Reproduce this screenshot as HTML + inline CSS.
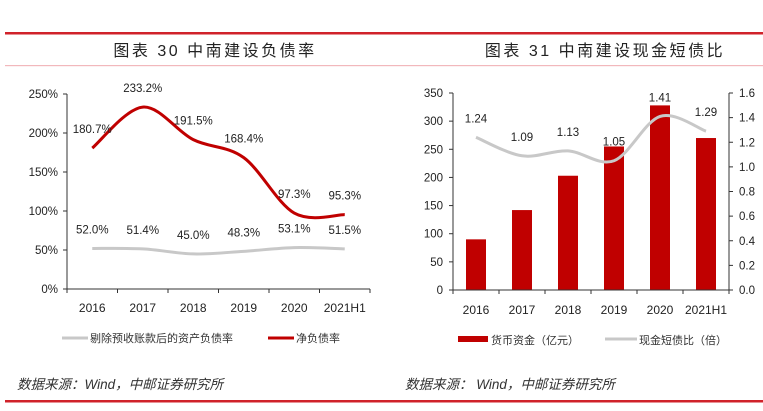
<!DOCTYPE html>
<html><head><meta charset="utf-8"><style>
body{margin:0;width:763px;height:411px;background:#fff;overflow:hidden;font-family:"Liberation Sans","Noto Sans CJK SC",sans-serif}
svg{position:absolute;left:0;top:0}
</style></head><body>
<svg width="763" height="411" font-family="Liberation Sans, Noto Sans CJK SC, sans-serif">
<rect x="5" y="32" width="758" height="2.5" fill="#d0222a"/>
<rect x="5" y="65" width="758" height="1.2" fill="#f2b8bc"/>
<rect x="5" y="400" width="758" height="2.5" fill="#d0222a"/>
<text x="215" y="56" font-size="16" letter-spacing="2.5" text-anchor="middle" fill="#222">图表 30 中南建设负债率</text>
<text x="605" y="56" font-size="16" letter-spacing="2.5" text-anchor="middle" fill="#222">图表 31 中南建设现金短债比</text>
<text x="17" y="389" font-size="13.5" font-style="italic" fill="#333">数据来源：Wind，中邮证券研究所</text>
<text x="405" y="389" font-size="13.5" font-style="italic" fill="#333">数据来源： Wind，中邮证券研究所</text>
<g id="left"></g><g id="right"></g>
</svg>
<script>
const cats=['2016','2017','2018','2019','2020','2021H1'];
const adjDebt=[52.0,51.4,45.0,48.3,53.1,51.5];
const netDebt=[180.7,233.2,191.5,168.4,97.3,95.3];
const leftTicks=[0,50,100,150,200,250];
const cash=[90,142,203,255,328,270];
const ratio=[1.24,1.09,1.13,1.05,1.41,1.29];
const cashTicks=[0,50,100,150,200,250,300,350];
const ratioTicks=[0,0.2,0.4,0.6,0.8,1.0,1.2,1.4,1.6];
const NS='http://www.w3.org/2000/svg';
function mk(p,t,a){const e=document.createElementNS(NS,t);for(const k in a)e.setAttribute(k,a[k]);p.appendChild(e);return e;}
function smooth(pts){let d='M'+pts[0][0]+','+pts[0][1];for(let i=0;i<pts.length-1;i++){const p0=pts[i-1]||pts[i],p1=pts[i],p2=pts[i+1],p3=pts[i+2]||p2;
d+=' C'+(p1[0]+(p2[0]-p0[0])/6)+','+(p1[1]+(p2[1]-p0[1])/6)+' '+(p2[0]-(p3[0]-p1[0])/6)+','+(p2[1]-(p3[1]-p1[1])/6)+' '+p2[0]+','+p2[1];}return d;}
// left chart
const L=document.getElementById('left');
const lx0=67,lx1=370,ly0=289,ly1=94;
const lxs=i=>lx0+(lx1-lx0)/cats.length*(i+0.5);
const lys=v=>ly0-(ly0-ly1)*v/250;
let e=mk(L,'line',{x1:lx0,y1:ly1,x2:lx0,y2:ly0,stroke:'#333','stroke-width':1});

e=mk(L,'line',{x1:lx0,y1:ly0,x2:lx1,y2:ly0,stroke:'#333','stroke-width':1});

leftTicks.forEach(v=>{const y=lys(v);mk(L,'line',{x1:lx0-4,y1:y,x2:lx0,y2:y,stroke:'#333'});
e=mk(L,'text',{x:lx0-9,y:y+4,'font-size':11.5,'text-anchor':'end',fill:'#222'});e.textContent=v+'%';
});
for(let i=0;i<=cats.length;i++){const x=lx0+(lx1-lx0)/cats.length*i;mk(L,'line',{x1:x,y1:ly0,x2:x,y2:ly0+4,stroke:'#333'});}
cats.forEach((c,i)=>{e=mk(L,'text',{x:lxs(i),y:312,'font-size':12,'text-anchor':'middle',fill:'#222'});e.textContent=c;
});
e=mk(L,'path',{d:smooth(adjDebt.map((v,i)=>[lxs(i),lys(v)])),fill:'none',stroke:'#c8c8c8','stroke-width':3});

e=mk(L,'path',{d:smooth(netDebt.map((v,i)=>[lxs(i),lys(v)])),fill:'none',stroke:'#c00000','stroke-width':3});

adjDebt.forEach((v,i)=>{e=mk(L,'text',{x:lxs(i),y:lys(v)-15,'font-size':11.5,'text-anchor':'middle',fill:'#222'});e.textContent=v.toFixed(1)+'%';
});
netDebt.forEach((v,i)=>{e=mk(L,'text',{x:lxs(i),y:lys(v)-15,'font-size':11.5,'text-anchor':'middle',fill:'#222'});e.textContent=v.toFixed(1)+'%';
});
e=mk(L,'line',{x1:62,y1:338,x2:88,y2:338,stroke:'#c8c8c8','stroke-width':3});

e=mk(L,'text',{x:90,y:342,'font-size':11,fill:'#333'});e.textContent='剔除预收账款后的资产负债率';

e=mk(L,'line',{x1:268,y1:338,x2:294,y2:338,stroke:'#c00000','stroke-width':3});

e=mk(L,'text',{x:296,y:342,'font-size':11,fill:'#333'});e.textContent='净负债率';

// right chart
const R=document.getElementById('right');
const rx0=453,rx1=729,ry0=290,ry1=93;
const rxs=i=>rx0+(rx1-rx0)/cats.length*(i+0.5);
const rys=v=>ry0-(ry0-ry1)*v/350;
const r2=v=>ry0-(ry0-ry1)*v/1.6;
cash.forEach((v,i)=>{e=mk(R,'rect',{x:rxs(i)-10,y:rys(v),width:20,height:ry0-rys(v),fill:'#c00000'});
});
e=mk(R,'line',{x1:rx0,y1:ry1,x2:rx0,y2:ry0,stroke:'#333'});
e=mk(R,'line',{x1:rx1,y1:ry1,x2:rx1,y2:ry0,stroke:'#333'});
e=mk(R,'line',{x1:rx0,y1:ry0,x2:rx1,y2:ry0,stroke:'#333'});
cashTicks.forEach(v=>{const y=rys(v);mk(R,'line',{x1:rx0-4,y1:y,x2:rx0,y2:y,stroke:'#333'});
e=mk(R,'text',{x:rx0-10,y:y+4,'font-size':11.5,'text-anchor':'end',fill:'#222'});e.textContent=v;
});
ratioTicks.forEach(v=>{const y=r2(v);mk(R,'line',{x1:rx1,y1:y,x2:rx1+4,y2:y,stroke:'#333'});
e=mk(R,'text',{x:rx1+10,y:y+4,'font-size':11.5,fill:'#222'});e.textContent=v.toFixed(1);
});
for(let i=0;i<=cats.length;i++){const x=rx0+(rx1-rx0)/cats.length*i;mk(R,'line',{x1:x,y1:ry0,x2:x,y2:ry0+4,stroke:'#333'});}
cats.forEach((c,i)=>{e=mk(R,'text',{x:rxs(i),y:314,'font-size':12,'text-anchor':'middle',fill:'#222'});e.textContent=c;
});
e=mk(R,'path',{d:smooth(ratio.map((v,i)=>[rxs(i),r2(v)])),fill:'none',stroke:'#c8c8c8','stroke-width':3});

ratio.forEach((v,i)=>{e=mk(R,'text',{x:rxs(i),y:r2(v)-15,'font-size':11.5,'text-anchor':'middle',fill:'#222'});e.textContent=v.toFixed(2);
});
e=mk(R,'rect',{x:458,y:336,width:30,height:6,fill:'#c00000'});

e=mk(R,'text',{x:491,y:344,'font-size':11,fill:'#333'});e.textContent='货币资金（亿元）';

e=mk(R,'line',{x1:605,y1:339,x2:637,y2:339,stroke:'#c8c8c8','stroke-width':3});

e=mk(R,'text',{x:639,y:344,'font-size':11,fill:'#333'});e.textContent='现金短债比（倍）';

</script>
</body></html>
